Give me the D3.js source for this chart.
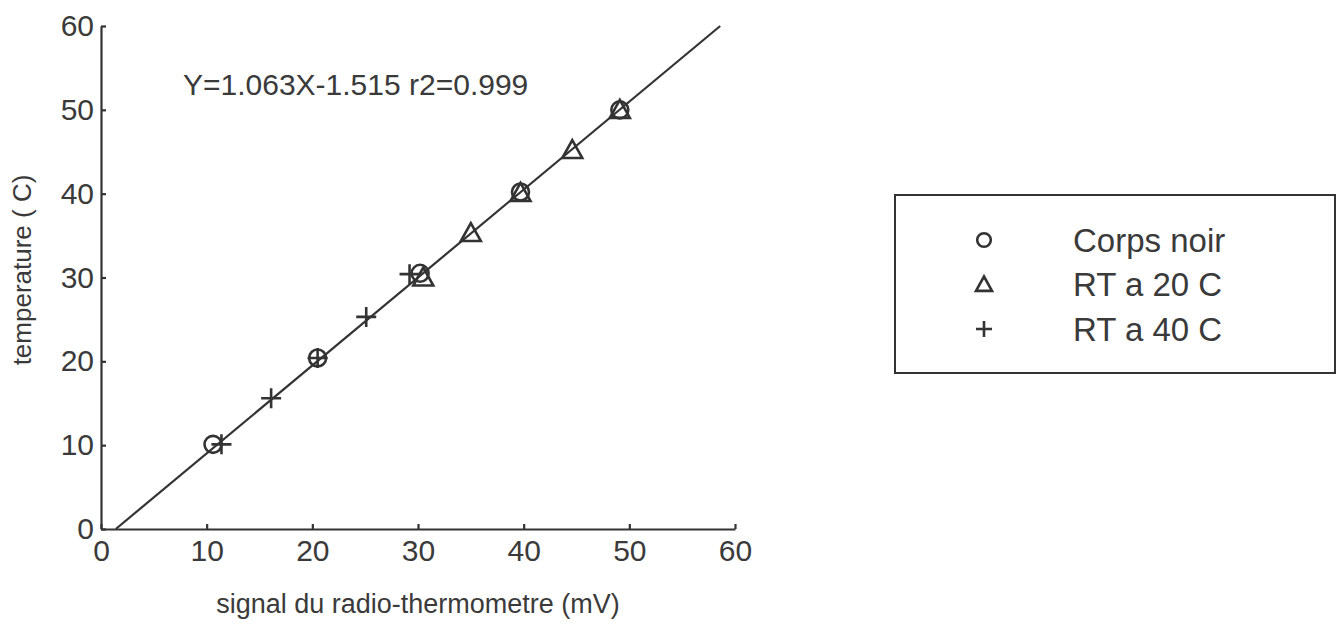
<!DOCTYPE html>
<html lang="fr">
<head>
    <meta charset="UTF-8">
    <title>Etalonnage radio-thermometre</title>
    <script src="https://cdn.jsdelivr.net/npm/d3@7"></script>
    <style>
        body {
            margin: 0;
            background-color: white;
        }

        svg text {
            font-family: "Liberation Sans", Arial, Helvetica, sans-serif;
            fill: #3a3a3a;
        }

        .axis path,
        .axis line {
            fill: none;
            stroke: #333;
            stroke-width: 2.2px;
        }

        .axis text {
            font-size: 30px;
        }

        .mark {
            fill: none;
            stroke: #333;
            stroke-width: 2.6px;
        }
    </style>
</head>
<body>
<svg width="1340" height="631"></svg>

<script>
    // valeurs
    var corpsNoirX = [10.6, 20.5, 30.2, 39.7, 49.1];
    var corpsNoirY = [10.1, 20.4, 30.5, 40.2, 50.0];
    var rt20X = [30.5, 35.0, 39.7, 44.6, 49.1];
    var rt20Y = [30.0, 35.3, 40.1, 45.2, 50.0];
    var rt40X = [11.4, 16.1, 20.5, 25.1, 29.2];
    var rt40Y = [10.1, 15.6, 20.4, 25.3, 30.4];
    // droite de regression tracee (extremites)
    var fitX = [1.4, 58.6];
    var fitY = [0, 60];
    var xTicks = [0, 10, 20, 30, 40, 50, 60];
    var yTicks = [0, 10, 20, 30, 40, 50, 60];
    var legendLabels = ["Corps noir", "RT a 20 C", "RT a 40 C"];
    var legendSymbols = ["circle", "triangle", "plus"];
    var equation = "Y=1.063X-1.515 r2=0.999";

    var svg = d3.select("svg");
    var margin = {left: 101, top: 26};
    var plotW = 634, plotH = 503;

    var x = d3.scaleLinear().domain([0, 60]).range([0, plotW]);
    var y = d3.scaleLinear().domain([0, 60]).range([plotH, 0]);

    var g = svg.append("g")
            .attr("transform", "translate(" + margin.left + "," + margin.top + ")");

    //axes, graduations vers l'interieur
    g.append("g")
            .attr("class", "axis")
            .attr("transform", "translate(0," + plotH + ")")
            .call(d3.axisBottom(x).tickValues(xTicks).tickSizeInner(-5).tickSizeOuter(0).tickPadding(11));
    g.append("g")
            .attr("class", "axis")
            .call(d3.axisLeft(y).tickValues(yTicks).tickSizeInner(-5).tickSizeOuter(0).tickPadding(7));

    //droite
    var line = d3.line()
            .x(function (d) { return x(d[0]); })
            .y(function (d) { return y(d[1]); });
    g.append("path")
            .datum(d3.zip(fitX, fitY))
            .attr("d", line)
            .attr("fill", "none")
            .attr("stroke", "#333")
            .attr("stroke-width", 2.2);

    //symboles
    function drawSymbol(sel, type, s) {
        if (type === "circle") {
            sel.append("circle").attr("class", "mark").attr("r", s * 0.85);
        } else if (type === "triangle") {
            sel.append("path").attr("class", "mark")
                    .attr("d", "M0," + (-s) + "L" + s + "," + (s * 0.8) + "L" + (-s) + "," + (s * 0.8) + "Z");
        } else {
            sel.append("path").attr("class", "mark")
                    .attr("d", "M" + (-s) + ",0H" + s + "M0," + (-s) + "V" + s);
        }
    }

    var series = [
        {type: "circle", xs: corpsNoirX, ys: corpsNoirY},
        {type: "triangle", xs: rt20X, ys: rt20Y},
        {type: "plus", xs: rt40X, ys: rt40Y}
    ];
    series.forEach(function (s) {
        g.selectAll(".pt-" + s.type)
                .data(d3.zip(s.xs, s.ys))
                .enter()
                .append("g")
                .attr("transform", function (d) {
                    return "translate(" + x(d[0]) + "," + y(d[1]) + ")";
                })
                .each(function () {
                    drawSymbol(d3.select(this), s.type, 10);
                });
    });

    //equation
    svg.append("text")
            .attr("x", 183)
            .attr("y", 95)
            .style("font-size", "30px")
            .text(equation);

    //titres des axes
    svg.append("text")
            .attr("transform", "translate(31,270) rotate(-90)")
            .attr("text-anchor", "middle")
            .style("font-size", "26px")
            .text("temperature ( C)");
    svg.append("text")
            .attr("x", 418)
            .attr("y", 613)
            .attr("text-anchor", "middle")
            .style("font-size", "27px")
            .text("signal du radio-thermometre (mV)");

    //legende
    svg.append("rect")
            .attr("x", 895)
            .attr("y", 195)
            .attr("width", 440)
            .attr("height", 178)
            .attr("fill", "none")
            .attr("stroke", "#333")
            .attr("stroke-width", 2);
    var rowY = d3.scalePoint().domain(legendLabels).range([240, 329]);
    var leg = svg.selectAll(".leg")
            .data(legendLabels)
            .enter()
            .append("g")
            .attr("transform", function (d) {
                return "translate(0," + rowY(d) + ")";
            });
    leg.append("g")
            .attr("transform", "translate(984,0)")
            .each(function (d, i) {
                drawSymbol(d3.select(this), legendSymbols[i], 8);
            });
    leg.append("text")
            .attr("x", 1073)
            .attr("dy", "0.36em")
            .style("font-size", "33px")
            .text(function (d) { return d; });
</script>
</body>
</html>
